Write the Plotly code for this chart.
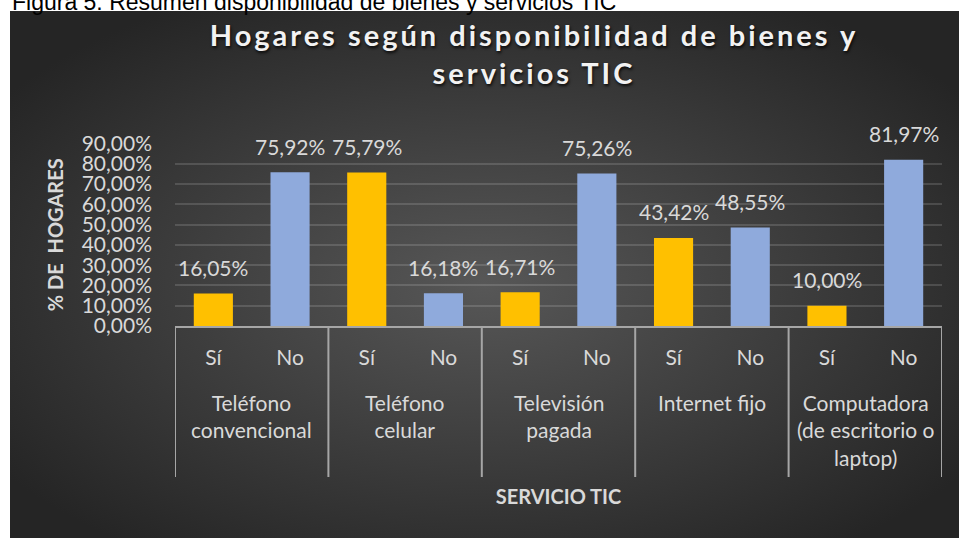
import base64
import plotly.graph_objects as go

# Data
servicios = ["Teléfono<br>convencional", "Teléfono<br>celular", "Televisión<br>pagada",
             "Internet fijo", "Computadora<br>(de escritorio o<br>laptop)"]
respuestas = ["Sí", "No"]
si = [0.1605, 0.7579, 0.1671, 0.4342, 0.1000]
no = [0.7592, 0.1618, 0.7526, 0.4855, 0.8197]
y_ticks = [0.0, 0.1, 0.2, 0.3, 0.4, 0.5, 0.6, 0.7, 0.8, 0.9]

W, H = 959, 538


def px(x):
    return x / W


def py(y):
    return 1 - y / H


# x positions: each service has a "Sí" slot and a "No" slot
x_si = [2 * i for i in range(len(servicios))]
x_no = [2 * i + 1 for i in range(len(servicios))]

fig = go.Figure()
fig.add_trace(go.Bar(x=x_si, y=si, name="Sí", width=0.51, marker=dict(color="#FFC000", line_width=0)))
fig.add_trace(go.Bar(x=x_no, y=no, name="No", width=0.51, marker=dict(color="#8FAADC", line_width=0)))

label_font = dict(family="Lato", size=21, color="#d9d9d9")

# data labels above the bars
annotations = []
for xs, vals in [(x_si, si), (x_no, no)]:
    for x, v in zip(xs, vals):
        annotations.append(dict(
            x=x, y=v, xref="x", yref="y", text=f"{v * 100:.2f}%".replace(".", ","),
            showarrow=False, yanchor="middle", yshift=26, font=label_font))

# service (group) labels under the Sí / No labels
for i, s in enumerate(servicios):
    annotations.append(dict(
        x=2 * i + 0.5, y=py(388), xref="x", yref="paper", text=s, showarrow=False,
        yanchor="top", font=dict(family="Lato", size=21, color="#d9d9d9")))

# figure caption, cut by the top of the picture
annotations.append(dict(
    x=px(10), y=py(2), xref="paper", yref="paper", xanchor="left", yanchor="middle",
    text="Figura 5: Resumen disponibilidad de bienes y servicios TIC", showarrow=False,
    font=dict(family="Liberation Sans", size=23, color="#000000")))

# vertical separators between services
shapes = []
for k in range(len(servicios) + 1):
    shapes.append(dict(
        type="line", xref="x", yref="paper", x0=2 * k - 0.5, x1=2 * k - 0.5,
        y0=py(326), y1=py(477), line=dict(color="#a6a6a6", width=2)))

# dark radial-gradient panel behind the chart
svg = ('<svg xmlns="http://www.w3.org/2000/svg" width="949" height="527" preserveAspectRatio="none">'
       '<defs><radialGradient id="g" cx="50%" cy="52%" r="62%">'
       '<stop offset="0" stop-color="#575757"/><stop offset="1" stop-color="#252525"/>'
       '</radialGradient></defs><rect width="949" height="527" fill="url(#g)"/></svg>')
panel = "data:image/svg+xml;base64," + base64.b64encode(svg.encode()).decode()

fig.update_layout(
    width=W, height=H,
    margin=dict(l=0, r=0, t=0, b=0),
    paper_bgcolor="white",
    plot_bgcolor="rgba(0,0,0,0)",
    barmode="overlay",
    showlegend=False,
    separators=",.",
    title=dict(
        text="Hogares según disponibilidad de bienes y<br>servicios TIC",
        x=px(534), xanchor="center", y=py(46), yanchor="top",
        font=dict(family="Lato", size=29, color="#f2f2f2", weight="bold",
                  shadow="1px 2px 3px rgba(0,0,0,0.8)")),
    xaxis=dict(
        domain=[px(175), px(942)], range=[-0.5, 9.5],
        tickvals=x_si + x_no, ticktext=[respuestas[0]] * len(x_si) + [respuestas[1]] * len(x_no),
        tickfont=label_font, ticklabelstandoff=12,
        showgrid=False, zeroline=False,
        showline=True, linecolor="#a6a6a6", linewidth=2,
        title=dict(text="SERVICIO TIC", standoff=122,
                   font=dict(family="Lato", size=20, color="#d9d9d9", weight="bold")),
        automargin=False, fixedrange=True),
    yaxis=dict(
        domain=[py(326), py(143.6)], range=[0, 0.9],
        tickvals=y_ticks, tickformat=".2%", tickfont=label_font, ticklabelstandoff=22,
        showgrid=True, gridcolor="rgba(255,255,255,0.14)", gridwidth=1.5,
        zeroline=False, showline=False,
        title=dict(text="% DE  HOGARES", standoff=12,
                   font=dict(family="Lato", size=20, color="#d9d9d9", weight="bold")),
        automargin=False, fixedrange=True),
    annotations=annotations,
    shapes=shapes,
    images=[dict(source=panel, xref="paper", yref="paper", x=px(10), y=py(11),
                 sizex=(W - 10) / W, sizey=(H - 11) / H, xanchor="left", yanchor="top",
                 sizing="stretch", layer="below")],
)

# no page margin, and the letter-spaced title of the reference
page_js = """
document.body.style.margin = '0';
var gd = document.getElementById('{plot_id}');
function spaceTitle() {
  gd.querySelectorAll('.gtitle').forEach(function (e) { e.style.letterSpacing = '3px'; });
}
spaceTitle();
gd.on('plotly_afterplot', spaceTitle);
"""

fig.write_html("out.html", post_script=page_js, config={"displayModeBar": False})
